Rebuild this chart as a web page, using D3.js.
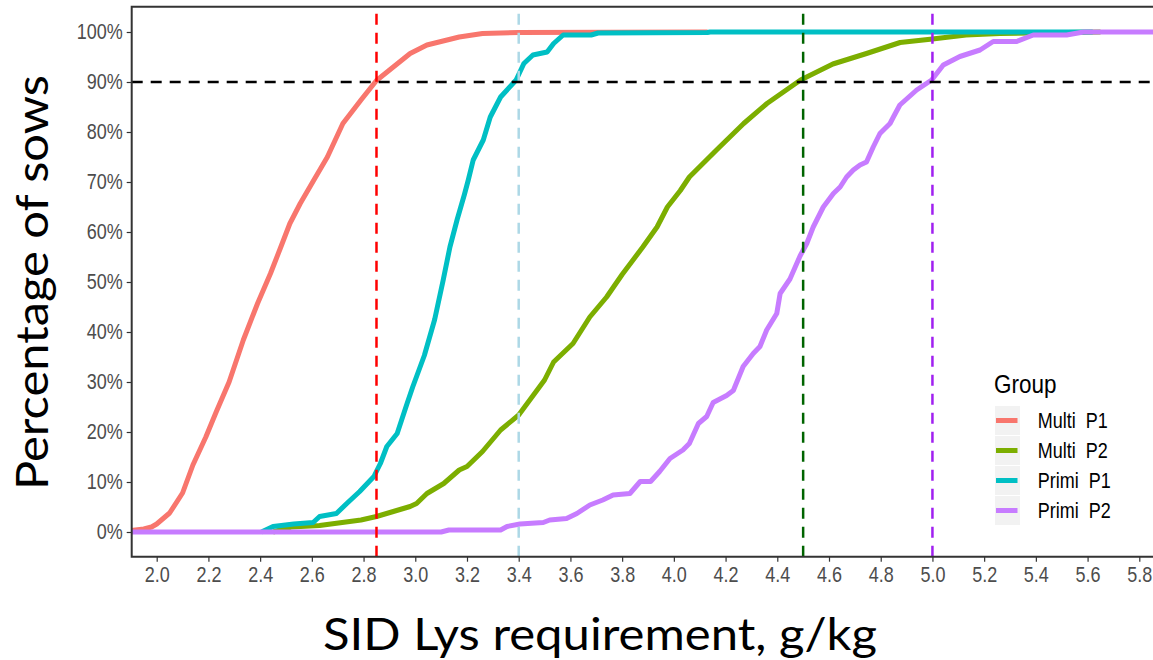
<!DOCTYPE html>
<html>
<head>
<meta charset="utf-8">
<script src="https://cdn.jsdelivr.net/npm/d3@7"></script>
<style>
    body { margin: 0; background: #fff; }
    svg { display: block; }
</style>
</head>
<body>
<div id="chart"></div>
<script>
// groups in ggplot order (later ones are drawn on top)
var groups = ["Multi  P1", "Multi  P2", "Primi  P1", "Primi  P2"];
var groupColors = ["#F8766D", "#7CAE00", "#00BFC4", "#C77CFF"];

// [SID Lys, g/kg ; cumulative % of sows]
var multiP1 = [[1.90,0.3],[1.95,0.6],[1.98,1.0],[2.00,1.6],[2.05,3.8],[2.10,7.8],[2.14,13.4],[2.19,19.0],
    [2.23,24.0],[2.28,30.0],[2.335,38.4],[2.39,45.7],[2.44,51.7],[2.48,57.0],[2.515,61.7],[2.555,65.7],
    [2.60,69.7],[2.66,75.0],[2.72,81.7],[2.79,86.4],[2.85,90.3],[2.915,93.0],[2.98,95.7],[3.045,97.4],
    [3.17,99.0],[3.26,99.7],[3.40,99.9],[4.13,100]];
var multiP2 = [[2.45,0],[2.52,1.0],[2.63,1.3],[2.79,2.4],[2.85,3.1],[2.915,4.1],[2.98,5.1],[3.005,5.7],
    [3.045,7.7],[3.11,9.7],[3.17,12.4],[3.20,13.1],[3.26,16.1],[3.33,20.4],[3.40,23.4],[3.45,26.9],
    [3.50,30.4],[3.535,34.0],[3.61,37.7],[3.675,43.0],[3.74,47.0],[3.80,51.5],[3.88,57.0],[3.935,61.0],
    [3.975,65.0],[4.025,68.3],[4.06,71.0],[4.165,76.4],[4.27,81.7],[4.36,85.7],[4.49,90.4],[4.615,93.6],
    [4.745,95.7],[4.875,97.9],[5.00,98.6],[5.13,99.4],[5.26,99.7],[5.65,100]];
var primiP1 = [[2.405,0],[2.45,1.1],[2.53,1.6],[2.605,1.9],[2.63,3.1],[2.695,3.7],[2.735,5.7],[2.785,8.1],
    [2.84,11.1],[2.865,13.7],[2.89,17.1],[2.93,19.7],[2.967,25.5],[2.99,29.0],[3.035,35.3],[3.075,42.5],
    [3.108,50.4],[3.134,57.0],[3.162,62.5],[3.19,67.5],[3.205,70.4],[3.224,74.4],[3.263,78.4],[3.29,83.0],
    [3.33,87.0],[3.39,90.4],[3.42,93.7],[3.455,95.4],[3.51,96.0],[3.535,97.7],[3.572,99.4],[3.68,99.4],
    [3.707,99.8],[4.13,99.9],[4.14,100],[5.62,100]];
var primiP2 = [[1.90,0],[3.10,0],[3.13,0.4],[3.33,0.4],[3.355,1.1],[3.405,1.6],[3.495,1.9],[3.52,2.4],
    [3.585,2.7],[3.625,3.7],[3.675,5.4],[3.725,6.4],[3.765,7.4],[3.83,7.7],[3.87,10.1],[3.91,10.1],
    [3.945,12.1],[3.985,14.7],[4.035,16.4],[4.06,17.7],[4.095,21.7],[4.127,23.1],[4.152,25.9],[4.204,27.3],
    [4.23,28.3],[4.268,33.1],[4.307,35.7],[4.333,37.1],[4.359,40.4],[4.398,43.7],[4.411,47.7],[4.449,50.6],
    [4.488,55.2],[4.514,57.7],[4.539,61.0],[4.578,65.0],[4.617,67.7],[4.643,69.0],[4.668,71.0],[4.694,72.4],
    [4.72,73.4],[4.745,74.0],[4.771,77.0],[4.797,79.7],[4.836,81.7],[4.849,83.0],[4.874,85.4],[4.939,88.4],
    [4.997,90.4],[5.042,93.4],[5.106,95.1],[5.184,96.4],[5.235,98.1],[5.326,98.1],[5.39,99.4],[5.519,99.4],
    [5.584,100],[5.95,100]];

var xTickValues = [2.0,2.2,2.4,2.6,2.8,3.0,3.2,3.4,3.6,3.8,4.0,4.2,4.4,4.6,4.8,5.0,5.2,5.4,5.6,5.8];
var yTickValues = [0,10,20,30,40,50,60,70,80,90,100];

// requirement cut-offs (vertical) and the 90% target (horizontal)
var cutoffValues = [2.85, 3.4, 4.5, 5.0];
var cutoffColors = ["#FF0000", "#ADD8E6", "#006400", "#A020F0"];
var targetPct = 90;

var seriesData = [multiP1, multiP2, primiP1, primiP2];

var width = 1153, height = 660;
var panel = { left: 131.7, top: 6.7, right: 1162, bottom: 556.7 };

var x = d3.scaleLinear().domain([2.0, 5.8]).range([156.7, 1139.3]);
var y = d3.scaleLinear().domain([0, 100]).range([532, 32]);

var tickFont = "'Liberation Sans', Arial, sans-serif";
var titleFont = "Lato, 'Open Sans', sans-serif";
var stretch = "scale(1,1.18)";

var svg = d3.select("#chart").append("svg")
    .attr("width", width)
    .attr("height", height);

svg.append("clipPath").attr("id", "panel-clip")
    .append("rect")
    .attr("x", panel.left)
    .attr("y", panel.top)
    .attr("width", panel.right - panel.left)
    .attr("height", panel.bottom - panel.top);

var plot = svg.append("g").attr("clip-path", "url(#panel-clip)");

// ECDF curves
var line = d3.line()
    .x(function(d) { return x(d[0]); })
    .y(function(d) { return y(d[1]); });

plot.selectAll("path.ecdf")
    .data(seriesData)
    .enter()
    .append("path")
    .attr("class", "ecdf")
    .attr("d", line)
    .attr("fill", "none")
    .attr("stroke", function(d, i) { return groupColors[i]; })
    .attr("stroke-width", 5)
    .attr("stroke-linejoin", "round");

// reference lines
plot.selectAll("line.cutoff")
    .data(cutoffValues)
    .enter()
    .append("line")
    .attr("class", "cutoff")
    .attr("x1", function(d) { return x(d); })
    .attr("x2", function(d) { return x(d); })
    .attr("y1", panel.bottom)
    .attr("y2", panel.top)
    .attr("stroke", function(d, i) { return cutoffColors[i]; })
    .attr("stroke-width", 2.5)
    .attr("stroke-dasharray", "11,8");

plot.append("line")
    .attr("x1", panel.left)
    .attr("x2", panel.right)
    .attr("y1", y(targetPct))
    .attr("y2", y(targetPct))
    .attr("stroke", "#000")
    .attr("stroke-width", 2.5)
    .attr("stroke-dasharray", "11,8");

// axes
var yAxis = svg.append("g")
    .attr("transform", "translate(" + panel.left + ",0)")
    .call(d3.axisLeft(y).tickValues(yTickValues)
        .tickFormat(function(d) { return d + "%"; })
        .tickSize(5).tickPadding(4));

var xAxis = svg.append("g")
    .attr("transform", "translate(0," + panel.bottom + ")")
    .call(d3.axisBottom(x).tickValues(xTickValues)
        .tickFormat(d3.format(".1f"))
        .tickSize(5).tickPadding(4));

[yAxis, xAxis].forEach(function(ax) {
    ax.select(".domain").remove();
    ax.selectAll(".tick line").attr("stroke", "#333").attr("stroke-width", 1.2);
    ax.selectAll(".tick text")
        .attr("fill", "#4D4D4D")
        .style("font-family", tickFont)
        .style("font-size", "18px")
        .attr("transform", stretch);
});

// panel border (right side falls outside the picture)
svg.append("path")
    .attr("d", "M" + panel.right + "," + panel.top + "H" + panel.left +
        "V" + panel.bottom + "H" + panel.right)
    .attr("fill", "none")
    .attr("stroke", "#333")
    .attr("stroke-width", 2);

// axis titles
svg.append("text")
    .attr("x", 600)
    .attr("y", 650)
    .attr("text-anchor", "middle")
    .attr("textLength", 554)
    .attr("lengthAdjust", "spacingAndGlyphs")
    .style("font-family", titleFont)
    .style("font-size", "44px")
    .attr("fill", "#000")
    .text("SID Lys requirement, g/kg");

svg.append("text")
    .attr("transform", "translate(48,282.5) rotate(-90)")
    .attr("text-anchor", "middle")
    .attr("textLength", 415)
    .attr("lengthAdjust", "spacingAndGlyphs")
    .style("font-family", titleFont)
    .style("font-size", "44px")
    .attr("fill", "#000")
    .text("Percentage of sows");

// LEGEND
var legend = svg.append("g").attr("transform", "translate(994,0)");

legend.append("text")
    .attr("transform", "translate(0,392.5) " + stretch)
    .style("font-family", tickFont)
    .style("font-size", "22.5px")
    .attr("fill", "#000")
    .text("Group");

var rows = legend.selectAll("g.legend-row")
    .data(groups)
    .enter()
    .append("g")
    .attr("class", "legend-row")
    .attr("transform", function(d, i) { return "translate(0," + (420.5 + i * 30) + ")"; });

rows.append("rect")
    .attr("x", 1)
    .attr("y", -14.5)
    .attr("width", 25)
    .attr("height", 29)
    .attr("fill", "#F2F2F2");

rows.append("line")
    .attr("x1", 2)
    .attr("x2", 23.5)
    .attr("y1", 0)
    .attr("y2", 0)
    .attr("stroke", function(d, i) { return groupColors[i]; })
    .attr("stroke-width", 5);

rows.append("text")
    .attr("transform", "translate(43.7,7.4) " + stretch)
    .style("font-family", tickFont)
    .style("font-size", "18px")
    .style("white-space", "pre")
    .attr("fill", "#000")
    .text(function(d) { return d; });
</script>
</body>
</html>
